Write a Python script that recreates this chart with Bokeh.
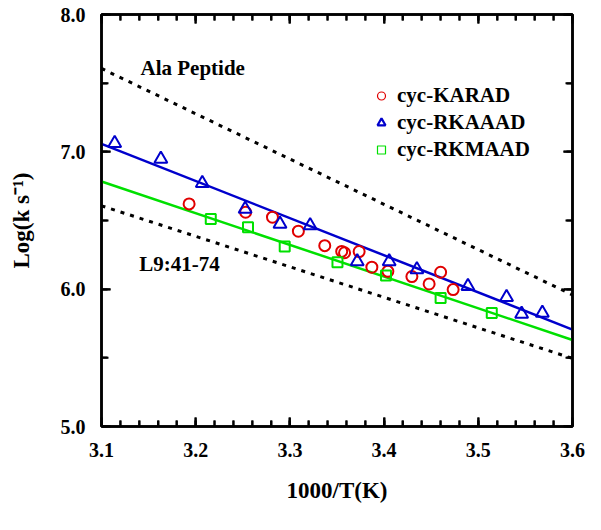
import numpy as np
from bokeh.plotting import figure
from bokeh.models import (Range1d, LinearAxis, SingleIntervalTicker, Label,
                          Legend, LegendItem, NumeralTickFormatter, ColumnDataSource)
from bokeh.embed import file_html
from bokeh.resources import INLINE

# ---- data ----
karad_x = [3.193, 3.253, 3.2815, 3.309, 3.337, 3.355, 3.358, 3.3735, 3.387, 3.404,
           3.4295, 3.4478, 3.460, 3.4733]
karad_y = [6.621, 6.560, 6.524, 6.422, 6.317, 6.275, 6.265, 6.274, 6.160, 6.130,
           6.092, 6.038, 6.123, 5.997]

rkaaad_x = [3.114, 3.163, 3.207, 3.2525, 3.2895, 3.3215, 3.3715, 3.4054, 3.4348,
            3.489, 3.530, 3.546, 3.568]
rkaaad_y = [7.063, 6.948, 6.771, 6.584, 6.475, 6.463, 6.201, 6.201, 6.143,
            6.021, 5.941, 5.820, 5.827]

rkmaad_x = [3.216, 3.2555, 3.2945, 3.3505, 3.402, 3.460, 3.5143]
rkmaad_y = [6.511, 6.451, 6.310, 6.196, 6.099, 5.936, 5.827]

fit_x = [3.1, 3.6]
rkaaad_fit = [7.058, 5.706]
rkmaad_fit = [6.784, 5.630]
ala_fit = [7.607, 5.958]
l9_fit = [6.607, 5.496]

series_names = ["cyc-KARAD", "cyc-RKAAAD", "cyc-RKMAAD"]
x_label = "1000/T(K)"
y_label = "Log(k s\u207b\u00b9)"

X0, X1 = 3.1, 3.6
Y0, Y1 = 5.0, 8.0

RED = "#E00000"
BLUE = "#0000CC"
GREEN = "#00E000"
FONT = "Liberation Serif"

W, H = 590, 520
BL, BR, BT, BB = 101, 18, 14, 94
FW, FH = W - BL - BR, H - BT - BB

p = figure(width=W, height=H, output_backend="svg", toolbar_location=None,
           x_range=Range1d(X0, X1), y_range=Range1d(Y0, Y1),
           min_border_left=BL, min_border_right=BR, min_border_top=BT,
           min_border_bottom=BB)
p.grid.visible = False
p.background_fill_color = None
p.border_fill_color = None
p.outline_line_color = "black"
p.outline_line_width = 2.5

# fit lines
p.line(fit_x, ala_fit, line_color="black", line_width=3, line_dash="4 6")
p.line(fit_x, l9_fit, line_color="black", line_width=3, line_dash="4 6")
p.line(fit_x, rkaaad_fit, line_color=BLUE, line_width=2.5)
p.line(fit_x, rkmaad_fit, line_color=GREEN, line_width=2.5)

# data markers
p.scatter(karad_x, karad_y, marker="circle", size=11, fill_color=None,
          line_color=RED, line_width=2)
p.scatter(rkaaad_x, rkaaad_y, marker="triangle", size=13, fill_color=None,
          line_color=BLUE, line_width=2)
p.scatter(rkmaad_x, rkmaad_y, marker="square", size=10, fill_color=None,
          line_color=GREEN, line_width=2)

# inward ticks on all four sides, as a multi-line glyph
dxp = (X1 - X0) / FW
dyp = (Y1 - Y0) / FH
xmaj = np.round(np.arange(X0, X1 + 1e-9, 0.1), 3)
xmin = np.round(np.arange(X0, X1 + 1e-9, 0.02), 3)
ymaj = np.round(np.arange(Y0, Y1 + 1e-9, 1.0), 3)
ymin = np.round(np.arange(Y0 + 0.5, Y1, 1.0), 3)
txs, tys = [], []
for vals, ln in ((xmaj, 9), (xmin, 6)):
    for v in vals:
        v = float(v)
        txs += [[v, v], [v, v]]
        tys += [[Y0, Y0 + ln * dyp], [Y1, Y1 - ln * dyp]]
for vals, ln in ((ymaj, 9), (ymin, 7)):
    for v in vals:
        v = float(v)
        tys += [[v, v], [v, v]]
        txs += [[X0, X0 + ln * dxp], [X1, X1 - ln * dxp]]
p.multi_line(txs, tys, line_color="black", line_width=2)

# legend proxies (no visible data)
nan = float("nan")
lr1 = p.scatter("x", "y", source=ColumnDataSource(dict(x=[nan], y=[nan])),
                marker="circle", fill_color=None, line_color=RED, line_width=1.2)
lr2 = p.scatter("x", "y", source=ColumnDataSource(dict(x=[nan], y=[nan])),
                marker="triangle", fill_color=None, line_color=BLUE, line_width=2.2)
lr3 = p.scatter("x", "y", source=ColumnDataSource(dict(x=[nan], y=[nan])),
                marker="square", fill_color=None, line_color=GREEN, line_width=1.2)
legend = Legend(items=[LegendItem(label=series_names[0], renderers=[lr1]),
                       LegendItem(label=series_names[1], renderers=[lr2]),
                       LegendItem(label=series_names[2], renderers=[lr3])],
                location=(270, 263), padding=0, margin=0, spacing=0,
                glyph_width=20, glyph_height=27, label_standoff=6,
                label_height=27,
                border_line_color=None, background_fill_alpha=0,
                label_text_font=FONT, label_text_font_style="bold",
                label_text_font_size="21px", label_text_color="black")
p.add_layout(legend, "center")

# text annotations
p.add_layout(Label(x=3.1414, y=7.609, text="Ala Peptide", text_font=FONT,
                   text_font_style="bold", text_font_size="21px",
                   text_baseline="middle", text_align="left", text_color="black"))
p.add_layout(Label(x=3.140, y=6.181, text="L9:41-74", text_font=FONT,
                   text_font_style="bold", text_font_size="21px",
                   text_baseline="middle", text_align="left", text_color="black"))

# axes styling
def style_axis(ax, labels=True):
    ax.axis_line_color = "black"
    ax.axis_line_width = 2.5
    ax.major_tick_in = 9
    ax.major_tick_out = 0
    ax.minor_tick_in = 6
    ax.minor_tick_out = 0
    ax.major_tick_line_width = 2
    ax.minor_tick_line_width = 2
    ax.major_tick_line_color = "black"
    ax.minor_tick_line_color = "black"
    ax.major_label_text_font = FONT
    ax.major_label_text_font_style = "bold"
    ax.major_label_text_font_size = "20px"
    ax.major_label_text_color = "black"
    ax.formatter = NumeralTickFormatter(format="0.0")
    ax.axis_label_text_font = FONT
    ax.axis_label_text_font_style = "bold"
    ax.axis_label_text_font_size = "23px"
    ax.axis_label_text_color = "black"
    if not labels:
        ax.major_label_text_color = None
        ax.major_label_text_font_size = "1px"
        ax.major_label_standoff = 0

p.xaxis.ticker = SingleIntervalTicker(interval=0.1, num_minor_ticks=5)
p.yaxis.ticker = SingleIntervalTicker(interval=1.0, num_minor_ticks=2)
style_axis(p.xaxis[0])
style_axis(p.yaxis[0])
p.xaxis[0].major_label_standoff = 16
p.yaxis[0].major_label_standoff = 16
p.xaxis[0].axis_label = x_label
p.xaxis[0].axis_label_standoff = 18
p.yaxis[0].axis_label = y_label
p.yaxis[0].axis_label_standoff = 24

top = LinearAxis(ticker=SingleIntervalTicker(interval=0.1, num_minor_ticks=5))
right = LinearAxis(ticker=SingleIntervalTicker(interval=1.0, num_minor_ticks=2))
style_axis(top, labels=False)
style_axis(right, labels=False)
p.add_layout(top, "above")
p.add_layout(right, "right")

open("out.html", "w").write(file_html(p, INLINE))
